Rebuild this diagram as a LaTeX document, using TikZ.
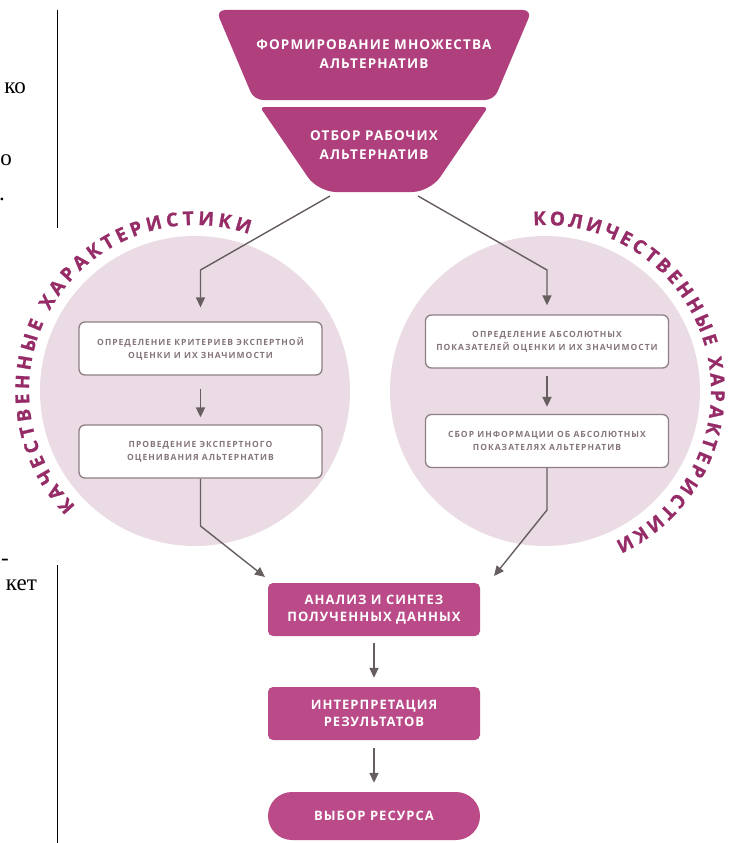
\documentclass[tikz,border=0pt]{standalone}
\usepackage{fontspec}
\setmainfont{Liberation Serif}
\newfontfamily\hf[LetterSpace=8]{Open Sans}
\newfontfamily\hfs[LetterSpace=12]{Open Sans}
\newfontfamily\hfc[FakeBold=1.2]{Open Sans}
\usetikzlibrary{arrows.meta,decorations.text}
\definecolor{mag}{HTML}{B03F7D}
\definecolor{magb}{HTML}{BA4A88}
\definecolor{circ}{HTML}{EADBE4}
\definecolor{arrc}{HTML}{675E60}
\definecolor{bord}{HTML}{8E8086}
\definecolor{gtext}{HTML}{85767C}
\definecolor{ctext}{HTML}{962C67}
\begin{document}
\begin{tikzpicture}[x=1pt,y=-1pt,
  arr/.style={draw=arrc,line width=1.8pt,-{Triangle[width=9pt,length=10pt]}},
  thin arr/.style={arr,line width=1.4pt},
  wbox/.style={draw=bord,line width=1.3pt,fill=white,rounded corners=6pt,minimum width=243pt,minimum height=53pt,align=center,text=gtext,font=\hfs\bfseries\fontsize{8.5}{13}\selectfont,inner sep=0pt},
  mbox/.style={fill=magb,rounded corners=5pt,minimum width=212pt,minimum height=53pt,align=center,text=white,font=\hf\bfseries\fontsize{13}{17}\selectfont,inner sep=0pt},
  ftext/.style={text=white,align=center,font=\hf\bfseries\fontsize{13.5}{19}\selectfont,inner sep=0pt},
  mtext/.style={font=\fontsize{23}{26}\selectfont,anchor=base east,inner sep=0pt},
  ctxt/.style={decorate,decoration={text along path,text align={fit to path},text={|\hfc\bfseries\fontsize{19}{19}\selectfont\color{ctext}|#1}}}
]
\useasboundingbox (0,0) rectangle (732,843);

% margin
\draw[line width=1pt] (57,10) -- (57,228);
\draw[line width=1pt] (57,565) -- (57,843);
\node[mtext] (m1) at (26,93) {ко};
\node[mtext] (m2) at (12,165) {о};
\node[mtext] (m3) at (5,200) {.};
\node[mtext] (m4) at (9,565) {-};
\node[mtext] (m5) at (37,590) {кет};

% circles
\fill[circ] (195,391) circle[radius=155];
\fill[circ] (545,391) circle[radius=155];
\path[ctxt={КАЧЕСТВЕННЫЕ ХАРАКТЕРИСТИКИ}] (195,391) ++(-224:166) arc[start angle=-224,end angle=-71,radius=166];
\path[ctxt={КОЛИЧЕСТВЕННЫЕ ХАРАКТЕРИСТИКИ}] (545,391) ++(-94:166) arc[start angle=-94,end angle=65,radius=166];

% funnel
\fill[mag,rounded corners=9pt] (216,10) -- (532,10) -- (494,100) -- (254,100) -- cycle;
\fill[mag] [rounded corners=4pt] (260,107) -- (488,107) [rounded corners=18pt] -- (430,192) -- (318,192) [rounded corners=4pt] -- cycle;
\node[ftext] (f1) at (374,54) {ФОРМИРОВАНИЕ МНОЖЕСТВА\\АЛЬТЕРНАТИВ};
\node[ftext] (f2) at (374,145) {ОТБОР РАБОЧИХ\\АЛЬТЕРНАТИВ};

% boxes in circles
\node[wbox] (b1) at (200.5,348.5) {ОПРЕДЕЛЕНИЕ КРИТЕРИЕВ ЭКСПЕРТНОЙ\\ОЦЕНКИ И ИХ ЗНАЧИМОСТИ};
\node[wbox] (b2) at (200.5,451.5) {ПРОВЕДЕНИЕ ЭКСПЕРТНОГО\\ОЦЕНИВАНИЯ АЛЬТЕРНАТИВ};
\node[wbox] (b3) at (547,341.5) {ОПРЕДЕЛЕНИЕ АБСОЛЮТНЫХ\\ПОКАЗАТЕЛЕЙ ОЦЕНКИ И ИХ ЗНАЧИМОСТИ};
\node[wbox] (b4) at (547,441) {СБОР ИНФОРМАЦИИ ОБ АБСОЛЮТНЫХ\\ПОКАЗАТЕЛЯХ АЛЬТЕРНАТИВ};

% bottom boxes
\node[mbox] (a1) at (374,609.5) {АНАЛИЗ И СИНТЕЗ\\ПОЛУЧЕННЫХ ДАННЫХ};
\node[mbox] (a2) at (374,713.5) {ИНТЕРПРЕТАЦИЯ\\РЕЗУЛЬТАТОВ};
\node[mbox,rounded corners=24pt,minimum height=48pt] (a3) at (374,816) {ВЫБОР РЕСУРСА};

% connectors
\coordinate (s1) at (330,196);
\coordinate (k1) at (200.5,270);
\coordinate (s2) at (418,196);
\coordinate (k2) at (547,270);
\coordinate (k3) at (200.5,526);
\coordinate (t1) at (265,577);
\coordinate (k4) at (547,510);
\coordinate (t2) at (494,576);
\draw[thin arr,shorten >=14pt] (s1) -- (k1) -- (b1.north);
\draw[thin arr,shorten >=9pt] (s2) -- (k2) -- (b3.north);
\draw[arr,shorten <=13pt,shorten >=7pt] (b1) -- (b2);
\draw[arr,shorten <=7pt,shorten >=7pt] (b3) -- (b4);
\draw[thin arr] (b2.south) -- (k3) -- (t1);
\draw[thin arr] (b4.south) -- (k4) -- (t2);
\draw[arr,shorten <=7pt,shorten >=9pt] (a1) -- (a2);
\draw[arr,shorten <=8pt,shorten >=9pt] (a2) -- (a3);
\end{tikzpicture}
\end{document}
